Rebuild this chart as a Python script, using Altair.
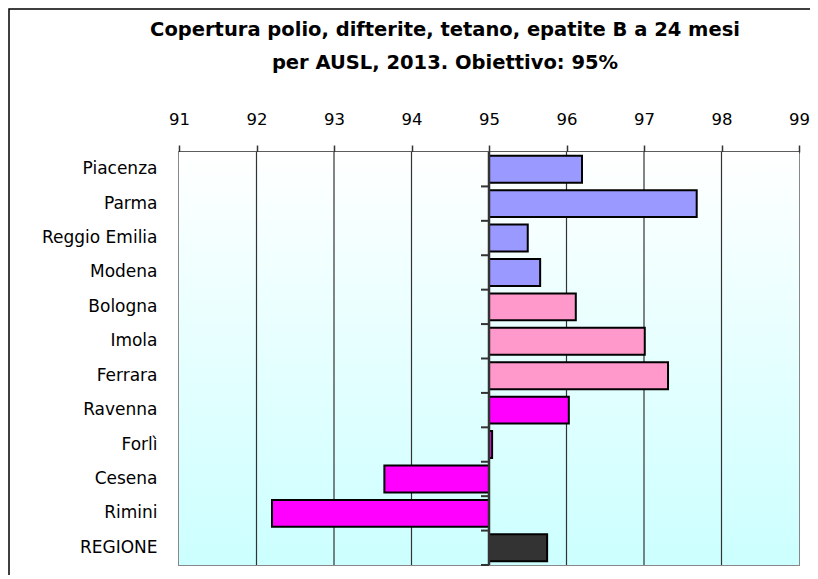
import altair as alt
import pandas as pd

names = ["Piacenza", "Parma", "Reggio Emilia", "Modena", "Bologna", "Imola",
         "Ferrara", "Ravenna", "Forlì", "Cesena", "Rimini", "REGIONE"]
values = [96.2, 97.68, 95.5, 95.66, 96.12, 97.01, 97.31, 96.03, 95.04, 93.65, 92.2, 95.75]
colors = ["#9999FF", "#9999FF", "#9999FF", "#9999FF", "#FF99CC", "#FF99CC",
          "#FF99CC", "#FF00FF", "#FF00FF", "#FF00FF", "#FF00FF", "#333333"]
ticks = [91, 92, 93, 94, 95, 96, 97, 98, 99]
inner_grid = [92, 93, 94, 96, 97, 98]
title_lines = ["Copertura polio, difterite, tetano, epatite B a 24 mesi",
               "per AUSL, 2013. Obiettivo: 95%"]
target = 95

W, H = 620, 413
PL = 171
FONT = "DejaVu Sans"

df = pd.DataFrame({"name": names, "value": values, "color": colors})
grid_df = pd.DataFrame({"t": inner_grid})

xscale = alt.Scale(domain=[ticks[0], ticks[-1]], nice=False, zero=False)
yscale = alt.Scale(paddingInner=0.22, paddingOuter=0.11)
xaxis = alt.Axis(orient="top", values=ticks, title=None, grid=False,
                 labelFont=FONT, labelFontSize=16.5, labelColor="#000000",
                 labelPadding=18, domainColor="#333333", domainWidth=2,
                 tickColor="#333333", tickSize=7, tickWidth=1.5,
                 labelFlush=False)

one = alt.Data(values=[{"a": 1}])

bg = alt.Chart(one).mark_rect(
    color=alt.Gradient(
        gradient="linear",
        stops=[alt.GradientStop(color="#FFFFFF", offset=0),
               alt.GradientStop(color="#CCFFFF", offset=1)],
        x1=0, x2=0, y1=0, y2=1,
    )
).encode(x=alt.value(0), x2=alt.value(W), y=alt.value(0), y2=alt.value(H))

grid = alt.Chart(grid_df).mark_rule(color="#333333", strokeWidth=1.2).encode(
    x=alt.X("t:Q", scale=xscale, axis=xaxis)
)

bars = alt.Chart(df).mark_bar(stroke="#000000", strokeWidth=2).encode(
    x=alt.X("value:Q", scale=xscale, axis=xaxis),
    x2=alt.X2("base:Q"),
    y=alt.Y("name:N", sort=names, scale=yscale,
            axis=alt.Axis(title=None, ticks=False, domain=False, labelFont=FONT,
                          labelFontSize=17, labelColor="#000000", labelPadding=22)),
    color=alt.Color("color:N", scale=None),
).transform_calculate(base=str(target))

base_rule = alt.Chart(alt.Data(values=[{"t": target}])).mark_rule(
    color="#333333", strokeWidth=2.5).encode(
    x=alt.X("t:Q", scale=xscale, axis=xaxis)
)

px95 = W * (target - ticks[0]) / (ticks[-1] - ticks[0])
ytick = alt.Chart(df).mark_rule(color="#333333", strokeWidth=2, yOffset=17.2).encode(
    y=alt.Y("name:N", sort=names, scale=yscale),
    x=alt.value(px95 - 8),
    x2=alt.value(px95),
)

frame = alt.Chart(one).mark_rect(fill=None, stroke="#000000", strokeWidth=1.5).encode(
    x=alt.value(-(PL - 1)), x2=alt.value(W + 80), y=alt.value(-143), y2=alt.value(H + 80)
)

t1 = alt.Chart(one).mark_text(text=title_lines[0], font=FONT, fontSize=19.5,
                              fontWeight="bold", color="#000000",
                              align="center", baseline="middle").encode(
    x=alt.value(266), y=alt.value(-122))
t2 = alt.Chart(one).mark_text(text=title_lines[1], font=FONT, fontSize=19.5,
                              fontWeight="bold", color="#000000",
                              align="center", baseline="middle").encode(
    x=alt.value(266), y=alt.value(-89))

chart = alt.layer(bg, grid, bars, base_rule, ytick, frame, t1, t2).properties(
    width=W, height=H,
    padding={"left": PL, "top": 144, "right": 11, "bottom": 10},
    autosize=alt.AutoSizeParams(type="none"),
    background="#FFFFFF",
).configure_view(stroke="#888888", strokeWidth=2)

chart.save("out.html", embed_options={"renderer": "svg", "actions": False})
